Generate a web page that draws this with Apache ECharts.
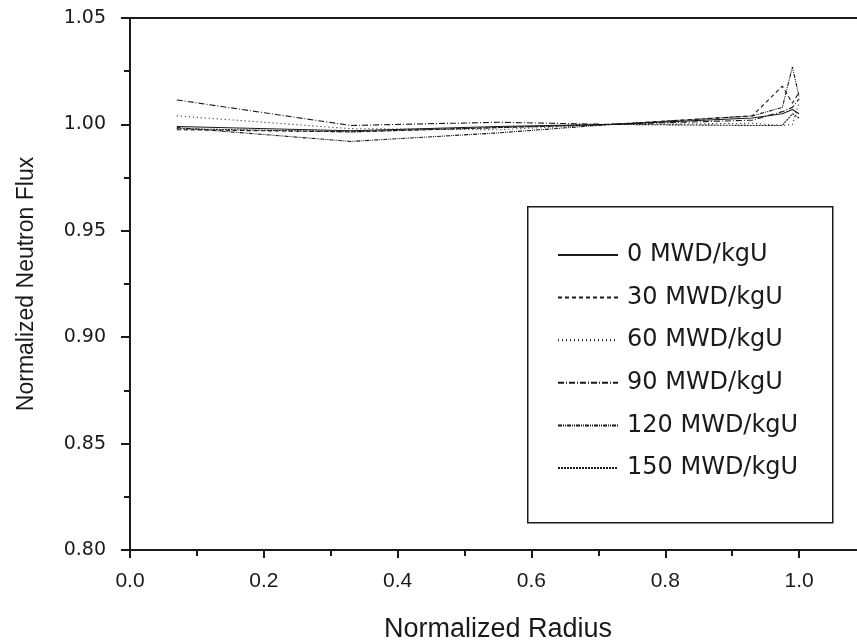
<!DOCTYPE html>
<html>
<head>
<meta charset="utf-8">
<title>Normalized Neutron Flux</title>
<script src="https://cdn.jsdelivr.net/npm/echarts@6/dist/echarts.min.js"></script>
<style>
  html, body { margin: 0; padding: 0; background: #fff; }
  #main { width: 857px; height: 643px; }
</style>
</head>
<body>
<div id="main"></div>
<script>
// radius positions (normalized)
var radius = [0.07, 0.33, 0.55, 0.72, 0.93, 0.975, 0.99, 1.0];

// flux per burnup step
var flux0   = [0.9990, 0.9970, 0.9990, 1.0000, 1.0030, 1.0050, 1.0070, 1.0050];
var flux30  = [0.9975, 0.9965, 0.9985, 1.0000, 1.0040, 1.0180, 1.0100, 1.0150];
var flux60  = [1.0040, 0.9980, 0.9975, 1.0000, 1.0005, 0.9995, 1.0000, 1.0100];
var flux90  = [1.0115, 0.9995, 1.0010, 1.0000, 1.0020, 1.0060, 1.0080, 1.0120];
var flux120 = [0.9985, 0.9920, 0.9960, 1.0000, 1.0040, 1.0080, 1.0270, 1.0130];
var flux150 = [0.9980, 0.9965, 0.9985, 1.0000, 0.9995, 0.9995, 1.0050, 1.0030];

var names = ['0 MWD/kgU', '30 MWD/kgU', '60 MWD/kgU', '90 MWD/kgU', '120 MWD/kgU', '150 MWD/kgU'];
var fluxes = [flux0, flux30, flux60, flux90, flux120, flux150];
var dashes = ['solid', [4, 3], [1, 3], [6, 2, 1, 2], [4, 1, 1, 1, 1, 1], [2, 1]];

var ink = '#1a1a1a';

function pairs(ys) {
  return radius.map(function (x, i) { return [x, ys[i]]; });
}

var series = names.map(function (n, i) {
  return {
    name: n,
    type: 'line',
    symbol: 'none',
    data: pairs(fluxes[i]),
    lineStyle: { color: ink, width: 1.1, type: dashes[i] },
    itemStyle: { color: ink },
    animation: false
  };
});

var chart = echarts.init(document.getElementById('main'));
chart.setOption({
  backgroundColor: '#fff',
  animation: false,
  grid: {
    left: 130, right: -9, top: 18, bottom: 93,
    outerBoundsMode: 'none',
    show: true, borderColor: ink, borderWidth: 2
  },
  graphic: [{
    type: 'rect',
    left: 527, top: 206,
    shape: { width: 305, height: 316 },
    style: { fill: '#fff', stroke: ink, lineWidth: 1.5 },
    z: 5
  }],
  legend: {
    orient: 'vertical',
    left: 557, top: 243,
    padding: 0,
    itemWidth: 60, itemHeight: 14,
    itemGap: 18.6,
    data: names,
    z: 10,
    itemStyle: { color: 'transparent', borderWidth: 0 },
    textStyle: {
      color: ink, fontSize: 24, lineHeight: 24,
      fontFamily: 'DejaVu Sans', padding: [0, 0, 0, 4]
    }
  },
  xAxis: {
    type: 'value',
    min: 0, max: 1.1, interval: 0.2,
    name: 'Normalized Radius',
    nameLocation: 'middle', nameGap: 66,
    nameTextStyle: { color: ink, fontSize: 27, fontFamily: 'Liberation Sans' },
    axisLine: { onZero: false, lineStyle: { color: ink, width: 2 } },
    axisTick: { length: 8, lineStyle: { color: ink, width: 2 } },
    minorTick: { show: true, splitNumber: 2, length: 6, lineStyle: { color: ink, width: 2 } },
    axisLabel: {
      color: ink, fontSize: 21, margin: 21, showMaxLabel: false,
      fontFamily: 'Liberation Sans',
      formatter: function (v) { return v.toFixed(1); }
    },
    splitLine: { show: false }
  },
  yAxis: {
    type: 'value',
    min: 0.80, max: 1.05, interval: 0.05,
    name: 'Normalized Neutron Flux',
    nameLocation: 'middle', nameGap: 92,
    nameTextStyle: { color: ink, fontSize: 23, fontFamily: 'Liberation Sans' },
    axisLine: { lineStyle: { color: ink, width: 2 } },
    axisTick: { length: 9, lineStyle: { color: ink, width: 2 } },
    minorTick: { show: true, splitNumber: 2, length: 6, lineStyle: { color: ink, width: 2 } },
    axisLabel: {
      color: ink, fontSize: 19, margin: 24, fontFamily: 'DejaVu Sans',
      formatter: function (v) { return v.toFixed(2); }
    },
    splitLine: { show: false }
  },
  series: series
});
</script>
</body>
</html>
